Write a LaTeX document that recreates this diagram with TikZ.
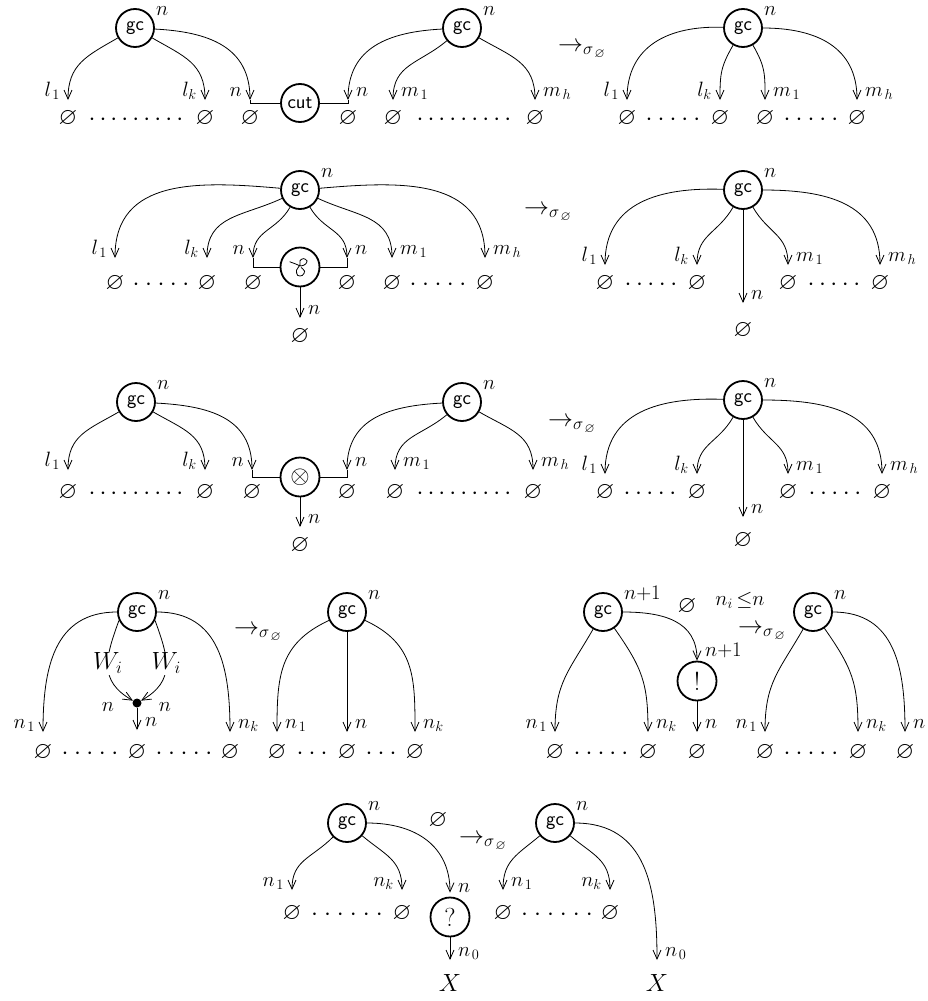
\documentclass[tikz,border=0pt]{standalone}
\usepackage{amssymb}
\usetikzlibrary{arrows.meta}
\DeclareMathSizes{19.5}{19.5}{14.5}{11}
\DeclareMathSizes{24}{24}{17}{13}
\newcounter{lbc}
\tikzset{
  gcn/.style={circle,draw,line width=1.8pt,minimum size=38pt,inner sep=0pt,font=\sffamily\fontsize{20}{24}\selectfont},
  opn/.style={circle,draw,line width=1.8pt,minimum size=39pt,inner sep=0pt,font=\fontsize{26}{30}\selectfont},
  emp/.style={inner sep=0pt,font=\fontsize{24}{28}\selectfont},
  big/.style={inner sep=0pt,font=\fontsize{24}{28}\selectfont},
  lab/.style={inner sep=0pt,font=\fontsize{19.5}{23}\selectfont},
  arr/.style={line width=0.8pt,looseness=1.15,-{Straight Barb[length=9pt,width=8pt]}},
  ln/.style={line width=0.9pt},
  dotsn/.style={inner sep=0pt,font=\fontsize{24}{28}\selectfont},
  blob/.style={circle,fill,inner sep=0pt,minimum size=9pt},
}
\newcommand\sbx[1]{_{\mkern2mu#1}}
\newcommand\LL[2]{\stepcounter{lbc}\node[lab,anchor=base east] (lb\arabic{lbc}) at ([shift={(-8,-4)}]#1) {$#2$};}
\newcommand\LR[2]{\stepcounter{lbc}\node[lab,anchor=base west] (lb\arabic{lbc}) at ([shift={(8,-4)}]#1) {$#2$};}
\newcommand\LN[2]{\stepcounter{lbc}\node[lab,anchor=base west] (lb\arabic{lbc}) at ([shift={(21,-13)}]#1) {$#2$};}
\newcommand\EM[2]{\node[emp] (#1) at (#2) {$\varnothing$};}
\newcommand\DT[4]{\node[dotsn] (#1) at (#2) {\foreach\dd in {1,...,#3}{\hbox to #4pt{\hss$\cdot$\hss}}};}
\newcommand\RED[2]{\node[big,anchor=base west] (#1) at (#2) {$\rightarrow_{\sigma_{\,\varnothing}}$};}
\begin{document}
\begin{tikzpicture}[x=1pt,y=-1pt]
\useasboundingbox (0,0) rectangle (927,1001);

% ================= Row 1 =================
\node[gcn] (g11) at (135,28) {gc};
\node[gcn] (g12) at (462,28) {gc};
\node[gcn] (cut1) at (300,103) {cut};
\coordinate (a1) at (68,100);
\coordinate (a2) at (205,100);
\coordinate (a3) at (250,100);
\coordinate (a4) at (348,100);
\coordinate (a5) at (393,100);
\coordinate (a6) at (535,100);
\draw[arr] (g11) to[out=210,in=90] (a1);
\draw[arr] (g11) to[out=-30,in=90] (a2);
\draw[arr] (g11) to[out=-3,in=90] (a3);
\draw[arr] (g12) to[out=183,in=90] (a4);
\draw[arr] (g12) to[out=220,in=90] (a5);
\draw[arr] (g12) to[out=-30,in=90] (a6);
\draw[ln] (a3) |- (cut1.west);
\draw[ln] (a4) |- (cut1.east);
\LN{g11}{n} \LN{g12}{n}
\LL{a1}{l\sbx1} \LL{a2}{l_k} \LL{a3}{n} \LR{a4}{n} \LR{a5}{m\sbx1} \LR{a6}{m\sbx h}
\EM{e11}{68,118} \EM{e12}{205,118} \EM{e13}{250,118} \EM{e14}{348,118} \EM{e15}{393,118} \EM{e16}{535,118}
\DT{d11}{136,120}{9}{11} \DT{d12}{464,120}{9}{11}
\RED{r1}{558,51}

\node[gcn] (g13) at (743,28) {gc};
\coordinate (b1) at (627,100);
\coordinate (b2) at (720,100);
\coordinate (b3) at (765,100);
\coordinate (b4) at (857,100);
\draw[arr] (g13) to[out=178,in=90] (b1);
\draw[arr] (g13) to[out=240,in=90] (b2);
\draw[arr] (g13) to[out=-60,in=90] (b3);
\draw[arr] (g13) to[out=0,in=90] (b4);
\LN{g13}{n}
\LL{b1}{l\sbx1} \LL{b2}{l_k} \LR{b3}{m\sbx1} \LR{b4}{m\sbx h}
\EM{e17}{627,118} \EM{e18}{720,118} \EM{e19}{765,118} \EM{e110}{857,118}
\DT{d13}{673,120}{5}{12} \DT{d14}{811,120}{5}{12}

% ================= Row 2 =================
\node[gcn] (g21) at (300,190) {gc};
\node[opn] (lp) at (300,267) {};
\draw[line width=0.8pt,shift={(lp.center)},xscale=1.15,yscale=1.05] plot[smooth,tension=0.6] coordinates {(-9,-5) (-4,-3) (1,-1) (5,-3) (6,-6) (3,-8) (0,-6) (0,-2) (-3,3) (-2,8) (2,8) (4,4) (1,0.5)};
\coordinate (c1) at (115,258);
\coordinate (c2) at (207,258);
\coordinate (c3) at (253,258);
\coordinate (c4) at (347,258);
\coordinate (c5) at (392,258);
\coordinate (c6) at (485,258);
\coordinate (c7) at (300,318);
\draw[arr] (g21) to[out=175,in=90] (c1);
\draw[arr] (g21) to[out=205,in=90] (c2);
\draw[arr] (g21) to[out=240,in=90] (c3);
\draw[arr] (g21) to[out=-60,in=90] (c4);
\draw[arr] (g21) to[out=-25,in=90] (c5);
\draw[arr] (g21) to[out=5,in=90] (c6);
\draw[ln] (c3) |- (lp.west);
\draw[ln] (c4) |- (lp.east);
\draw[arr] (lp) -- (c7);
\LN{g21}{n}
\LL{c1}{l\sbx1} \LL{c2}{l_k} \LL{c3}{n} \LR{c4}{n} \LR{c5}{m\sbx1} \LR{c6}{m\sbx h} \LR{c7}{n}
\EM{e21}{115,283} \EM{e22}{207,283} \EM{e23}{253,283} \EM{e24}{347,283} \EM{e25}{392,283} \EM{e26}{485,283}
\EM{e27}{300,336}
\DT{d21}{161,285}{5}{12.5} \DT{d22}{438,285}{5}{12.5}
\RED{r2}{524,214}

\node[gcn] (g22) at (743,190) {gc};
\coordinate (d1) at (605,265);
\coordinate (d2) at (697,265);
\coordinate (d3) at (743,303);
\coordinate (d4) at (788,265);
\coordinate (d5) at (880,265);
\draw[arr] (g22) to[out=178,in=90] (d1);
\draw[arr] (g22) to[out=240,in=90] (d2);
\draw[arr] (g22) -- (d3);
\draw[arr] (g22) to[out=-60,in=90] (d4);
\draw[arr] (g22) to[out=0,in=90] (d5);
\LN{g22}{n}
\LL{d1}{l\sbx1} \LL{d2}{l_k} \LR{d3}{n} \LR{d4}{m\sbx1} \LR{d5}{m\sbx h}
\EM{e28}{605,283} \EM{e29}{697,283} \EM{e210}{788,283} \EM{e211}{880,283} \EM{e212}{743,330}
\DT{d23}{651,285}{5}{11.5} \DT{d24}{834,285}{5}{11.5}

% ================= Row 3 =================
\node[gcn] (g31) at (136,402) {gc};
\node[gcn] (g32) at (462,402) {gc};
\node[opn] (ot) at (300,477) {$\otimes$};
\coordinate (f1) at (68,470);
\coordinate (f2) at (205,470);
\coordinate (f3) at (252,470);
\coordinate (f4) at (347,470);
\coordinate (f5) at (395,470);
\coordinate (f6) at (533,470);
\coordinate (f7) at (300,527);
\draw[arr] (g31) to[out=210,in=90] (f1);
\draw[arr] (g31) to[out=-30,in=90] (f2);
\draw[arr] (g31) to[out=-3,in=90] (f3);
\draw[arr] (g32) to[out=183,in=90] (f4);
\draw[arr] (g32) to[out=220,in=90] (f5);
\draw[arr] (g32) to[out=-30,in=90] (f6);
\draw[ln] (f3) |- (ot.west);
\draw[ln] (f4) |- (ot.east);
\draw[arr] (ot) -- (f7);
\LN{g31}{n} \LN{g32}{n}
\LL{f1}{l\sbx1} \LL{f2}{l_k} \LL{f3}{n} \LR{f4}{n} \LR{f5}{m\sbx1} \LR{f6}{m\sbx h} \LR{f7}{n}
\EM{e31}{68,492} \EM{e32}{205,492} \EM{e33}{252,492} \EM{e34}{347,492} \EM{e35}{395,492} \EM{e36}{533,492}
\EM{e37}{300,545}
\DT{d31}{136,494}{9}{11} \DT{d32}{464,494}{9}{11}
\RED{r3}{548,426}

\node[gcn] (g33) at (743,400) {gc};
\coordinate (h1) at (605,474);
\coordinate (h2) at (697,474);
\coordinate (h3) at (743,517);
\coordinate (h4) at (788,474);
\coordinate (h5) at (882,474);
\draw[arr] (g33) to[out=178,in=90] (h1);
\draw[arr] (g33) to[out=240,in=90] (h2);
\draw[arr] (g33) -- (h3);
\draw[arr] (g33) to[out=-60,in=90] (h4);
\draw[arr] (g33) to[out=0,in=90] (h5);
\LN{g33}{n}
\LL{h1}{l\sbx1} \LL{h2}{l_k} \LR{h3}{n} \LR{h4}{m\sbx1} \LR{h5}{m\sbx h}
\EM{e38}{605,492} \EM{e39}{697,492} \EM{e310}{788,492} \EM{e311}{882,492} \EM{e312}{743,540}
\DT{d33}{650,494}{5}{11.5} \DT{d34}{835,494}{5}{11.5}

% ================= Row 4 =================
\node[gcn] (g41) at (137,612) {gc};
\node[blob] (dt) at (137,703) {};
\coordinate (k1) at (43,732);
\coordinate (k2) at (137,730);
\coordinate (k3) at (230,732);
\draw[arr] (g41) to[out=180,in=90] (k1);
\draw[arr] (g41) to[out=0,in=90] (k3);
\draw[arr] (g41.205) to[out=250,in=150,looseness=1.25] node[pos=.45,fill=white,big,inner sep=1pt] (w1) {$W_i$} (dt);
\draw[arr] (g41.-25) to[out=-70,in=30,looseness=1.25] node[pos=.45,fill=white,big,inner sep=1pt] (w2) {$W_i$} (dt);
\draw[arr] (dt) -- (k2);
\LN{g41}{n}
\LL{k1}{n\sbx1} \LR{k3}{n_k} \LR{k2}{n}
\node[lab] (nl) at (108,707) {$n$};
\node[lab] (nr) at (165,707) {$n$};
\EM{e41}{43,752} \EM{e42}{137,752} \EM{e43}{230,752}
\DT{d41}{90,754}{5}{12.5} \DT{d42}{184,754}{5}{12.5}
\RED{r4}{234,634}

\node[gcn] (g42) at (347,612) {gc};
\coordinate (k4) at (277,732);
\coordinate (k5) at (347,732);
\coordinate (k6) at (415,732);
\draw[arr] (g42) to[out=205,in=90] (k4);
\draw[arr] (g42) -- (k5);
\draw[arr] (g42) to[out=-25,in=90] (k6);
\LN{g42}{n}
\LR{k4}{n\sbx1} \LR{k5}{n} \LR{k6}{n_k}
\EM{e44}{277,752} \EM{e45}{347,752} \EM{e46}{415,752}
\DT{d43}{312,754}{3}{12} \DT{d44}{381,754}{3}{12}

\node[gcn] (g43) at (603,612) {gc};
\node[opn] (bang) at (697,681) {!};
\coordinate (m1) at (555,732);
\coordinate (m2) at (648,732);
\coordinate (m3) at (697,732);
\draw[arr] (g43) to[out=240,in=90] (m1);
\draw[arr] (g43) to[out=-55,in=90] (m2);
\draw[arr] (g43) to[out=0,in=90] (bang);
\draw[arr] (bang) -- (m3);
\LN{g43}{n{+}1}
\LL{m1}{n\sbx1} \LR{m2}{n_k} \LR{m3}{n} \LR{bang.north}{n{+}1}
\EM{e47}{555,752} \EM{e48}{648,752} \EM{e49}{697,752}
\DT{d45}{601,754}{5}{12}
\EM{e410}{687,606}
\node[lab] (cond) at (740,600) {$n_i\,{\leq}n$};
\RED{r5}{738,633}

\node[gcn] (g44) at (813,612) {gc};
\coordinate (m4) at (765,732);
\coordinate (m5) at (858,732);
\coordinate (m6) at (905,732);
\draw[arr] (g44) to[out=240,in=90] (m4);
\draw[arr] (g44) to[out=-55,in=90] (m5);
\draw[arr] (g44) to[out=0,in=90] (m6);
\LN{g44}{n}
\LL{m4}{n\sbx1} \LR{m5}{n_k} \LR{m6}{n}
\EM{e411}{765,752} \EM{e412}{858,752} \EM{e413}{905,752}
\DT{d46}{811,754}{5}{12}

% ================= Row 5 =================
\node[gcn] (g51) at (347,823) {gc};
\node[opn] (q) at (450,917) {?};
\coordinate (p1) at (292,890);
\coordinate (p2) at (402,890);
\coordinate (p3) at (450,960);
\draw[arr] (g51) to[out=225,in=90] (p1);
\draw[arr] (g51) to[out=-40,in=90] (p2);
\draw[arr,shorten >=4pt] (g51) to[out=0,in=90] (q);
\draw[arr] (q) -- (p3);
\LN{g51}{n}
\LL{p1}{n\sbx1} \LL{p2}{n_k} \LR{q.north}{n} \LR{p3}{n\sbx0}
\node[big,font=\fontsize{27}{30}\selectfont] (x1) at (450,983) {$X$};
\EM{e51}{292,913} \EM{e52}{402,913}
\DT{d51}{347,915}{6}{13}
\EM{e53}{438,820}
\RED{r6}{459,843}

\node[gcn] (g52) at (555,823) {gc};
\coordinate (p4) at (503,890);
\coordinate (p5) at (610,890);
\coordinate (p6) at (657,960);
\draw[arr] (g52) to[out=220,in=90] (p4);
\draw[arr] (g52) to[out=-40,in=90] (p5);
\draw[arr] (g52) to[out=0,in=90] (p6);
\LN{g52}{n}
\LR{p4}{n\sbx1} \LL{p5}{n_k} \LR{p6}{n\sbx0}
\node[big,font=\fontsize{27}{30}\selectfont] (x2) at (657,983) {$X$};
\EM{e54}{503,913} \EM{e55}{610,913}
\DT{d52}{557,915}{6}{13}
\end{tikzpicture}
\end{document}
